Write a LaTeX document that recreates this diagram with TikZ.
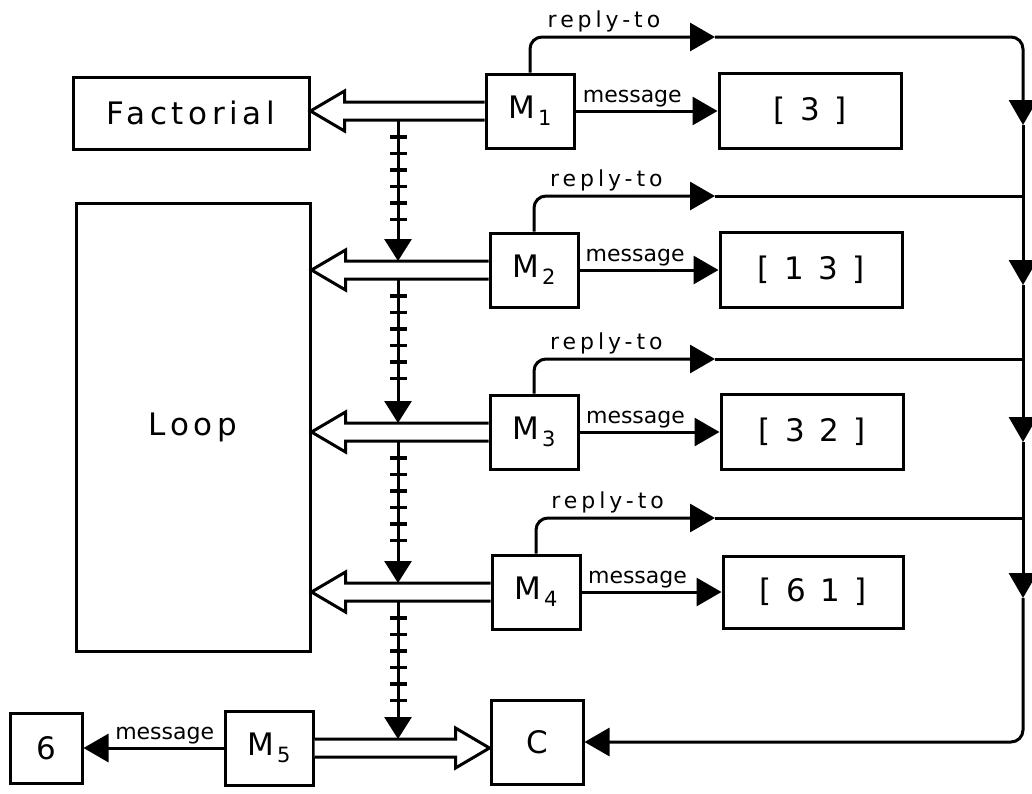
\documentclass[tikz,border=0pt]{standalone}
\usepackage{fontspec}
\setmainfont{DejaVu Sans}
\newfontfamily\boxfam[LetterSpace=15]{DejaVu Sans}
\newfontfamily\replyfam[LetterSpace=18]{DejaVu Sans}
\usepackage{tikz}
\usetikzlibrary{arrows.meta, calc}
\newcommand{\boxfont}{\boxfam\fontsize{31}{31}\selectfont}
\newcommand{\wirefont}{\fontsize{22}{22}\selectfont}
\newcommand{\replyfont}{\replyfam\fontsize{22}{22}\selectfont}
\newcommand{\Msub}[1]{M\kern3pt\raisebox{-7pt}{\fontsize{21}{21}\selectfont #1}}
% open arrow: #1 start, #2 tip, #3 signed head length
\newcommand{\hollowarrow}[3]{%
  \draw [hollow] ($(#1)+(0,-9)$) -- ($(#2)+(#3,-9)$) -- ++(0,-11) -- (#2)
    -- ($(#2)+(#3,20)$) -- ++(0,-11) -- ($(#1)+(0,9)$);}
\tikzstyle{unit}   = [rectangle, draw=black, line width=3pt, font=\boxfont, inner sep=0pt]
\tikzstyle{actor}  = [unit, minimum width=88pt, minimum height=74pt]
\tikzstyle{wire}   = [line width=3pt, -{Triangle[length=25pt,width=28pt]}]
\tikzstyle{plain}  = [line width=3pt]
\tikzstyle{hollow} = [line width=3pt, line join=miter, fill=white]
\tikzstyle{ladder} = [line width=3pt, -{Triangle[length=22pt,width=27pt]},
                      postaction={draw, arrows=-, line width=17pt, dash pattern=on 3.5pt off 13pt,
                                  shorten <=15pt, shorten >=36pt}]
\tikzstyle{msglbl}   = [font=\wirefont, inner sep=2pt]
\tikzstyle{replylbl} = [font=\replyfont, inner sep=3pt]
\tikzset{every node/.style={align=center}}

\begin{document}
\begin{tikzpicture}[x=1pt, y=-1pt]
    \useasboundingbox (0,0) rectangle (1032,793);

    \node (fac)  at (191, 113) [unit, minimum width=236pt, minimum height=72pt]  {Factorial};
    \node (loop) at (193, 427) [unit, minimum width=234pt, minimum height=448pt] {Loop};
    \node (m1)   at (530, 111) [actor] {\Msub{1}};
    \node (m2)   at (534, 270) [actor] {\Msub{2}};
    \node (m3)   at (534, 432) [actor] {\Msub{3}};
    \node (m4)   at (536, 592) [actor] {\Msub{4}};
    \node (m5)   at (269, 748) [actor] {\Msub{5}};
    \node (c)    at (537, 742) [actor, minimum width=92pt, minimum height=84pt] {C};
    \node (six)  at ( 46, 748) [unit, minimum width=72pt, minimum height=70pt] {6};
    \node (l1)   at (810, 111) [unit, minimum width=182pt, minimum height=75pt] {[ 3 ]};
    \node (l2)   at (811, 270) [unit, minimum width=182pt, minimum height=75pt] {[ 1 3 ]};
    \node (l3)   at (812, 432) [unit, minimum width=182pt, minimum height=75pt] {[ 3 2 ]};
    \node (l4)   at (813, 592) [unit, minimum width=180pt, minimum height=72pt] {[ 6 1 ]};

    \coordinate (tx)  at (398, 0);
    \coordinate (ra1) at (715, 37);
    \coordinate (ra2) at (715, 196);
    \coordinate (ra3) at (715, 359);
    \coordinate (ra4) at (715, 518);
    \coordinate (j2)  at (1023, 196);
    \coordinate (j3)  at (1023, 359);
    \coordinate (j4)  at (1023, 518);
    \coordinate (d1)  at (1023, 125);
    \coordinate (d2)  at (1023, 285);
    \coordinate (d3)  at (1023, 442);
    \coordinate (d4)  at (1023, 598);

    \hollowarrow{m1.west}{fac.east |- m1.west}{34}
    \hollowarrow{m2.west}{loop.east |- m2.west}{34}
    \hollowarrow{m3.west}{loop.east |- m3.west}{34}
    \hollowarrow{m4.west}{loop.east |- m4.west}{34}
    \hollowarrow{m5.east}{c.west |- m5.east}{-34}

    \draw [ladder] ($(tx |- m1.west)+(0,9)$) -- ($(tx |- m2.west)+(0,-9)$);
    \draw [ladder] ($(tx |- m2.west)+(0,9)$) -- ($(tx |- m3.west)+(0,-9)$);
    \draw [ladder] ($(tx |- m3.west)+(0,9)$) -- ($(tx |- m4.west)+(0,-9)$);
    \draw [ladder] ($(tx |- m4.west)+(0,9)$) -- ($(tx |- m5.east)+(0,-9)$);

    \draw [wire] (m1) -- node[above, pos=.4, msglbl]{message} (l1);
    \draw [wire] (m2) -- node[above, pos=.4, msglbl]{message} (l2);
    \draw [wire] (m3) -- node[above, pos=.4, msglbl]{message} (l3);
    \draw [wire] (m4) -- node[above, pos=.4, msglbl]{message} (l4);
    \draw [wire] (m5) -- node[above, pos=.42, msglbl]{message} (six);

    \draw [wire, rounded corners=12pt] (m1.north) |- node[above, pos=.7, replylbl]{reply-to} (ra1);
    \draw [wire, rounded corners=12pt] (m2.north) |- node[above, pos=.7, replylbl]{reply-to} (ra2);
    \draw [wire, rounded corners=12pt] (m3.north) |- node[above, pos=.7, replylbl]{reply-to} (ra3);
    \draw [wire, rounded corners=12pt] (m4.north) |- node[above, pos=.7, replylbl]{reply-to} (ra4);

    \draw [wire, rounded corners=12pt] (ra1) -| (d1);
    \draw [plain] (ra2) -- (j2);
    \draw [plain] (ra3) -- (j3);
    \draw [plain] (ra4) -- (j4);
    \draw [wire] (d1) -- (d2);
    \draw [wire] (d2) -- (d3);
    \draw [wire] (d3) -- (d4);
    \draw [wire, rounded corners=12pt] (d4) |- (c);
\end{tikzpicture}
\end{document}
